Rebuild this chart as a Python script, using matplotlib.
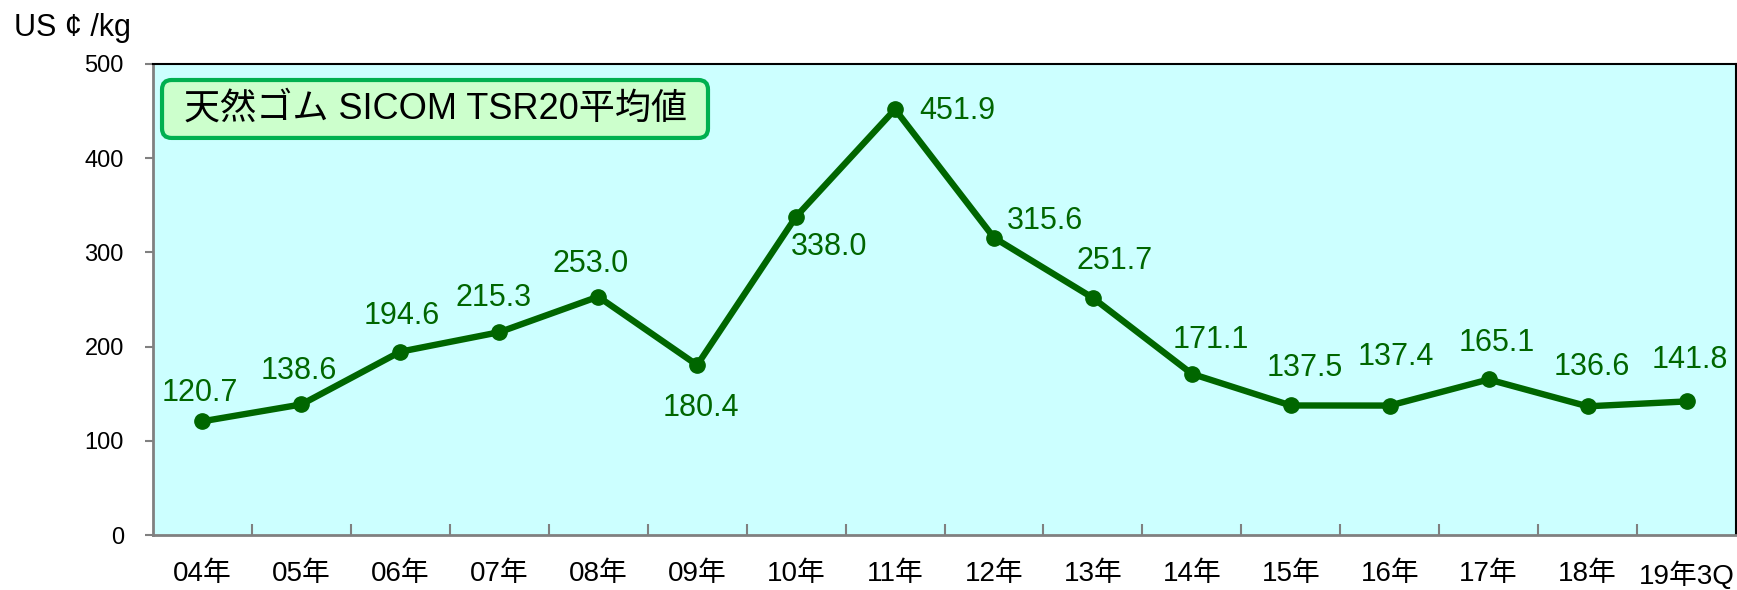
import matplotlib
matplotlib.use("Agg")
import matplotlib.pyplot as plt
from matplotlib.ticker import FixedLocator, NullFormatter
from matplotlib.patches import FancyBboxPatch

plt.rcParams['font.family'] = ['Liberation Sans', 'Noto Sans CJK JP', 'DejaVu Sans']

categories = ["04年", "05年", "06年", "07年", "08年", "09年", "10年", "11年",
              "12年", "13年", "14年", "15年", "16年", "17年", "18年", "19年3Q"]
values = [120.7, 138.6, 194.6, 215.3, 253.0, 180.4, 338.0, 451.9,
          315.6, 251.7, 171.1, 137.5, 137.4, 165.1, 136.6, 141.8]
yticks = [0, 100, 200, 300, 400, 500]
unit_label = "US ¢ /kg"
title_label = "天然ゴム SICOM TSR20平均値"

# label offsets in pixels (dx, dy), style only
label_offsets = [(-3, 28), (-3, 33), (1, 36), (-6, 34), (-8, 33), (4, -43),
                 (33, -30), (62, -2), (51, 17), (22, 37), (19, 34), (14, 37),
                 (6, 49), (8, 36), (4, 39), (3, 41)]

line_color = "#006600"

fig = plt.figure(figsize=(17.37, 5.90), dpi=100)
ax = fig.add_axes([153/1737, 55/590, (1736-153)/1737, (535-64)/590])
ax.set_facecolor("#ccffff")

x = list(range(len(values)))
ax.plot(x, values, color=line_color, lw=4.6, marker='o', ms=11, zorder=3)

for xi, v, (dx, dy) in zip(x, values, label_offsets):
    ax.annotate(f"{v:.1f}", (xi, v), xytext=(dx, dy), textcoords='offset pixels',
                ha='center', va='center', fontsize=22, color=line_color)

ax.set_xlim(-0.5, len(values) - 0.5)
ax.set_ylim(0, 500)
ax.set_yticks(yticks)
ax.set_yticklabels([str(t) for t in yticks], fontsize=17)
ax.tick_params(axis='y', direction='out', length=6, width=1.5, color='#808080', pad=15)

ax.xaxis.set_major_locator(FixedLocator([i + 0.5 for i in range(len(values) - 1)]))
ax.xaxis.set_major_formatter(NullFormatter())
ax.xaxis.set_minor_locator(FixedLocator(x))
ax.set_xticklabels(categories, minor=True, fontsize=20)
ax.tick_params(axis='x', which='major', direction='in', length=8, width=1.5, color='#808080')
ax.tick_params(axis='x', which='minor', length=0, pad=19)

for s in ['left', 'bottom']:
    ax.spines[s].set_color('#808080')
    ax.spines[s].set_linewidth(2)
for s in ['top', 'right']:
    ax.spines[s].set_color('black')
    ax.spines[s].set_linewidth(1.5)

fig.text(14/1737, 1 - 28/590, unit_label, fontsize=22, ha='left', va='center')

box = FancyBboxPatch((0.0057, 0.843), 0.3449, 0.123, transform=ax.transAxes,
                     boxstyle='round,pad=0,rounding_size=0.006', mutation_aspect=1583/471,
                     fc='#ccffcc', ec='#00b050', lw=3, zorder=4)
ax.add_patch(box)
ax.text(0.1785, 0.904, title_label, transform=ax.transAxes, fontsize=26,
        ha='center', va='center', color='black', zorder=5)

fig.savefig("out.png", dpi=100)
